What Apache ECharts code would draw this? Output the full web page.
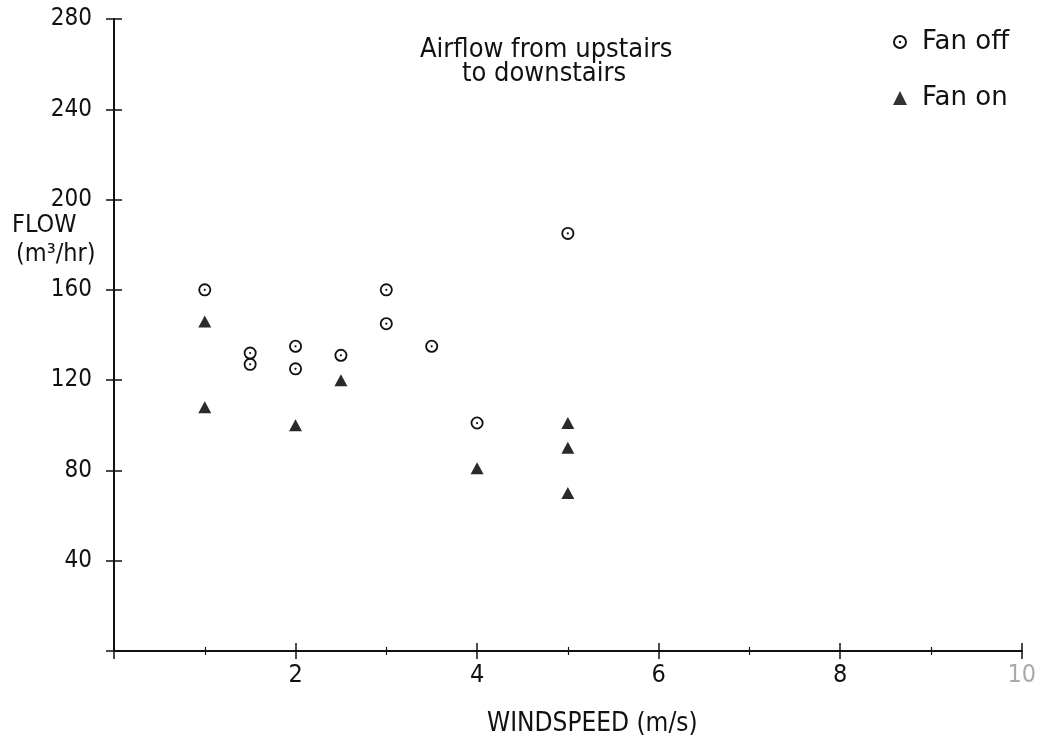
<!DOCTYPE html>
<html>
<head>
<meta charset="utf-8">
<script src="https://cdn.jsdelivr.net/npm/echarts@6/dist/echarts.min.js"></script>
<style>html,body{margin:0;padding:0;background:#fff;}#c{width:1039px;height:742px;}</style>
</head>
<body>
<div id="c"></div>
<script>
// Data
const fanOffX = [1, 1.5, 1.5, 2, 2, 2.5, 3, 3, 3.5, 4, 5];
const fanOffY = [160, 132, 127, 135, 125, 131, 160, 145, 135, 101, 185];
const fanOnX = [1, 1, 2, 2.5, 4, 5, 5, 5];
const fanOnY = [146, 108, 100, 120, 81, 101, 90, 70];
const xTicks = [0, 2, 4, 6, 8, 10];
const yTicks = [0, 40, 80, 120, 160, 200, 240, 280];
const seriesNames = ['Fan off', 'Fan on'];
const titleLines = ['Airflow from upstairs', 'to downstairs'];
const xName = 'WINDSPEED (m/s)';
const yNameLines = ['FLOW', '(m³/hr)'];

const FONT = "'DejaVu Sans Condensed', 'DejaVu Sans', sans-serif";
const WIDE = "'DejaVu Sans', sans-serif";
const INK = '#111';
const ringPath = 'path://M10,0 A10,10 0 1,1 10,20 A10,10 0 1,1 10,0 Z M10,2.8 A7.2,7.2 0 1,0 10,17.2 A7.2,7.2 0 1,0 10,2.8 Z M10,8.3 A1.7,1.7 0 1,1 10,11.7 A1.7,1.7 0 1,1 10,8.3 Z';

const chart = echarts.init(document.getElementById('c'), null, {renderer: 'canvas'});

function xAxisBase(inside, withLabels) {
  return {
    type: 'value', min: xTicks[0], max: xTicks[xTicks.length - 1], interval: 2,
    position: 'bottom',
    axisLine: {show: true, lineStyle: {color: INK, width: 2}},
    axisTick: {show: true, inside: inside, length: 8, lineStyle: {color: INK, width: 1.5}},
    minorTick: {show: true, splitNumber: 2, length: 4, lineStyle: {color: INK, width: 1.2}},
    splitLine: {show: false},
    axisLabel: {
      show: withLabels, margin: 12, fontFamily: FONT, fontSize: 25, color: INK,
      formatter: v => (v === 0 ? '' : (v === xTicks[xTicks.length - 1] ? '{f|' + v + '}' : String(v))),
      rich: {f: {color: '#aaa', fontFamily: FONT, fontSize: 25}}
    }
  };
}
function yAxisBase(inside, withLabels) {
  return {
    type: 'value', min: yTicks[0], max: yTicks[yTicks.length - 1], interval: 40,
    position: 'left',
    axisLine: {show: true, lineStyle: {color: INK, width: 2}},
    axisTick: {show: true, inside: inside, length: 8, lineStyle: {color: INK, width: 1.5}},
    splitLine: {show: false},
    axisLabel: {
      show: withLabels, margin: 22, fontFamily: FONT, fontSize: 24, color: INK,
      formatter: v => (v === 0 ? '' : String(v))
    }
  };
}

const option = {
  backgroundColor: '#fff',
  animation: false,
  grid: {left: 114, right: 14, top: 19, bottom: 91, containLabel: false},
  xAxis: [xAxisBase(false, true), xAxisBase(true, false)],
  yAxis: [yAxisBase(false, true), yAxisBase(true, false)],
  legend: {
    orient: 'vertical', left: 888, top: 24, itemGap: 30,
    itemWidth: 14, itemHeight: 14,
    textStyle: {fontFamily: WIDE, fontSize: 26, color: INK, padding: [0, 0, 0, 10]},
    data: [
      {name: seriesNames[0], icon: ringPath, itemStyle: {color: INK}},
      {name: seriesNames[1], icon: 'triangle', itemStyle: {color: '#333'}}
    ]
  },
  graphic: [
    {type: 'text', left: 420, top: 36, style: {
      text: titleLines[0], font: '27px ' + FONT, fill: INK
    }},
    {type: 'text', left: 462, top: 60, style: {
      text: titleLines[1], font: '27px ' + FONT, fill: INK
    }},
    {type: 'text', left: 12, top: 213, style: {
      text: yNameLines[0], font: '25px ' + FONT, fill: INK
    }},
    {type: 'text', left: 16, top: 242, style: {
      text: yNameLines[1], font: '25px ' + FONT, fill: INK
    }},
    {type: 'text', left: 487, top: 711, style: {
      text: xName, font: '26px ' + FONT, fill: INK
    }}
  ],
  series: [
    {
      name: seriesNames[0], type: 'scatter', xAxisIndex: 0, yAxisIndex: 0,
      symbol: ringPath, symbolSize: 13,
      itemStyle: {color: INK, opacity: 1},
      data: fanOffX.map((x, i) => [x, fanOffY[i]])
    },
    {
      name: seriesNames[1], type: 'scatter', xAxisIndex: 0, yAxisIndex: 0,
      symbol: 'triangle', symbolSize: [13, 12],
      itemStyle: {color: '#2a2a2a', opacity: 1},
      data: fanOnX.map((x, i) => [x, fanOnY[i]])
    }
  ]
};
chart.setOption(option);
</script>
</body>
</html>
